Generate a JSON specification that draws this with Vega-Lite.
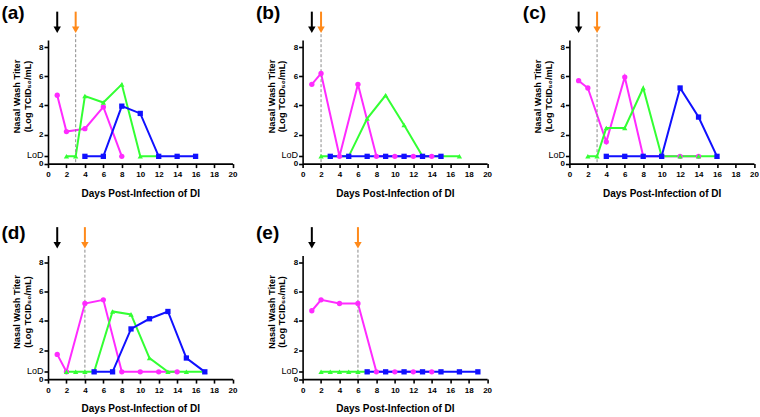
{
"$schema":"https://vega.github.io/schema/vega-lite/v6.json",
"padding":{"left":1,"top":3,"right":0,"bottom":0},
"background":"white",
"data":{"values":[
{"panel":"a","kind":"label","text":"(a)"},{"panel":"a","kind":"virus","day":1},{"panel":"a","kind":"DI","day":3},
{"panel":"a","kind":"obs","series":"m","day":1,"titer":4.7},{"panel":"a","kind":"obs","series":"m","day":2,"titer":2.2},{"panel":"a","kind":"obs","series":"m","day":4,"titer":2.4},{"panel":"a","kind":"obs","series":"m","day":6,"titer":3.9},{"panel":"a","kind":"obs","series":"m","day":8,"titer":0.5},
{"panel":"a","kind":"obs","series":"g","day":2,"titer":0.5},{"panel":"a","kind":"obs","series":"g","day":3,"titer":0.5},{"panel":"a","kind":"obs","series":"g","day":4,"titer":4.65},{"panel":"a","kind":"obs","series":"g","day":6,"titer":4.2},{"panel":"a","kind":"obs","series":"g","day":8,"titer":5.45},{"panel":"a","kind":"obs","series":"g","day":10,"titer":0.5},{"panel":"a","kind":"obs","series":"g","day":12,"titer":0.5},
{"panel":"a","kind":"obs","series":"b","day":4,"titer":0.5},{"panel":"a","kind":"obs","series":"b","day":6,"titer":0.5},{"panel":"a","kind":"obs","series":"b","day":8,"titer":3.95},{"panel":"a","kind":"obs","series":"b","day":10,"titer":3.45},{"panel":"a","kind":"obs","series":"b","day":12,"titer":0.5},{"panel":"a","kind":"obs","series":"b","day":14,"titer":0.5},{"panel":"a","kind":"obs","series":"b","day":16,"titer":0.5},

{"panel":"b","kind":"label","text":"(b)"},{"panel":"b","kind":"virus","day":1},{"panel":"b","kind":"DI","day":2},
{"panel":"b","kind":"obs","series":"m","day":1,"titer":5.45},{"panel":"b","kind":"obs","series":"m","day":2,"titer":6.2},{"panel":"b","kind":"obs","series":"m","day":4,"titer":0.5},{"panel":"b","kind":"obs","series":"m","day":6,"titer":5.45},{"panel":"b","kind":"obs","series":"m","day":8,"titer":0.5},{"panel":"b","kind":"obs","series":"m","day":10,"titer":0.5},{"panel":"b","kind":"obs","series":"m","day":12,"titer":0.5},{"panel":"b","kind":"obs","series":"m","day":14,"titer":0.5},
{"panel":"b","kind":"obs","series":"g","day":2,"titer":0.5},{"panel":"b","kind":"obs","series":"g","day":3,"titer":0.5},{"panel":"b","kind":"obs","series":"g","day":5,"titer":0.5},{"panel":"b","kind":"obs","series":"g","day":7,"titer":3.1},{"panel":"b","kind":"obs","series":"g","day":9,"titer":4.7},{"panel":"b","kind":"obs","series":"g","day":11,"titer":2.65},{"panel":"b","kind":"obs","series":"g","day":13,"titer":0.5},{"panel":"b","kind":"obs","series":"g","day":15,"titer":0.5},{"panel":"b","kind":"obs","series":"g","day":17,"titer":0.5},
{"panel":"b","kind":"obs","series":"b","day":3,"titer":0.5},{"panel":"b","kind":"obs","series":"b","day":5,"titer":0.5},{"panel":"b","kind":"obs","series":"b","day":7,"titer":0.5},{"panel":"b","kind":"obs","series":"b","day":9,"titer":0.5},{"panel":"b","kind":"obs","series":"b","day":11,"titer":0.5},{"panel":"b","kind":"obs","series":"b","day":13,"titer":0.5},{"panel":"b","kind":"obs","series":"b","day":15,"titer":0.5},

{"panel":"c","kind":"label","text":"(c)"},{"panel":"c","kind":"virus","day":1},{"panel":"c","kind":"DI","day":3},
{"panel":"c","kind":"obs","series":"m","day":1,"titer":5.7},{"panel":"c","kind":"obs","series":"m","day":2,"titer":5.2},{"panel":"c","kind":"obs","series":"m","day":4,"titer":1.5},{"panel":"c","kind":"obs","series":"m","day":6,"titer":5.95},{"panel":"c","kind":"obs","series":"m","day":8,"titer":0.5},{"panel":"c","kind":"obs","series":"m","day":10,"titer":0.5},{"panel":"c","kind":"obs","series":"m","day":12,"titer":0.5},{"panel":"c","kind":"obs","series":"m","day":14,"titer":0.5},
{"panel":"c","kind":"obs","series":"g","day":2,"titer":0.5},{"panel":"c","kind":"obs","series":"g","day":3,"titer":0.5},{"panel":"c","kind":"obs","series":"g","day":4,"titer":2.45},{"panel":"c","kind":"obs","series":"g","day":6,"titer":2.45},{"panel":"c","kind":"obs","series":"g","day":8,"titer":5.2},{"panel":"c","kind":"obs","series":"g","day":10,"titer":0.5},{"panel":"c","kind":"obs","series":"g","day":12,"titer":0.5},{"panel":"c","kind":"obs","series":"g","day":14,"titer":0.5},{"panel":"c","kind":"obs","series":"g","day":16,"titer":0.5},
{"panel":"c","kind":"obs","series":"b","day":4,"titer":0.5},{"panel":"c","kind":"obs","series":"b","day":6,"titer":0.5},{"panel":"c","kind":"obs","series":"b","day":8,"titer":0.5},{"panel":"c","kind":"obs","series":"b","day":10,"titer":0.5},{"panel":"c","kind":"obs","series":"b","day":12,"titer":5.2},{"panel":"c","kind":"obs","series":"b","day":14,"titer":3.2},{"panel":"c","kind":"obs","series":"b","day":16,"titer":0.5},

{"panel":"d","kind":"label","text":"(d)"},{"panel":"d","kind":"virus","day":1},{"panel":"d","kind":"DI","day":4},
{"panel":"d","kind":"obs","series":"m","day":1,"titer":1.7},{"panel":"d","kind":"obs","series":"m","day":2,"titer":0.5},{"panel":"d","kind":"obs","series":"m","day":4,"titer":5.2},{"panel":"d","kind":"obs","series":"m","day":6,"titer":5.45},{"panel":"d","kind":"obs","series":"m","day":8,"titer":0.5},{"panel":"d","kind":"obs","series":"m","day":10,"titer":0.5},{"panel":"d","kind":"obs","series":"m","day":12,"titer":0.5},{"panel":"d","kind":"obs","series":"m","day":14,"titer":0.5},
{"panel":"d","kind":"obs","series":"g","day":2,"titer":0.5},{"panel":"d","kind":"obs","series":"g","day":3,"titer":0.5},{"panel":"d","kind":"obs","series":"g","day":4,"titer":0.5},{"panel":"d","kind":"obs","series":"g","day":5,"titer":0.5},{"panel":"d","kind":"obs","series":"g","day":7,"titer":4.65},{"panel":"d","kind":"obs","series":"g","day":9,"titer":4.45},{"panel":"d","kind":"obs","series":"g","day":11,"titer":1.45},{"panel":"d","kind":"obs","series":"g","day":13,"titer":0.5},{"panel":"d","kind":"obs","series":"g","day":15,"titer":0.5},{"panel":"d","kind":"obs","series":"g","day":17,"titer":0.5},
{"panel":"d","kind":"obs","series":"b","day":5,"titer":0.5},{"panel":"d","kind":"obs","series":"b","day":7,"titer":0.5},{"panel":"d","kind":"obs","series":"b","day":9,"titer":3.45},{"panel":"d","kind":"obs","series":"b","day":11,"titer":4.15},{"panel":"d","kind":"obs","series":"b","day":13,"titer":4.65},{"panel":"d","kind":"obs","series":"b","day":15,"titer":1.45},{"panel":"d","kind":"obs","series":"b","day":17,"titer":0.5},

{"panel":"e","kind":"label","text":"(e)"},{"panel":"e","kind":"virus","day":1},{"panel":"e","kind":"DI","day":6},
{"panel":"e","kind":"obs","series":"m","day":1,"titer":4.7},{"panel":"e","kind":"obs","series":"m","day":2,"titer":5.45},{"panel":"e","kind":"obs","series":"m","day":4,"titer":5.2},{"panel":"e","kind":"obs","series":"m","day":6,"titer":5.2},{"panel":"e","kind":"obs","series":"m","day":8,"titer":0.5},{"panel":"e","kind":"obs","series":"m","day":10,"titer":0.5},{"panel":"e","kind":"obs","series":"m","day":12,"titer":0.5},{"panel":"e","kind":"obs","series":"m","day":14,"titer":0.5},
{"panel":"e","kind":"obs","series":"g","day":2,"titer":0.5},{"panel":"e","kind":"obs","series":"g","day":3,"titer":0.5},{"panel":"e","kind":"obs","series":"g","day":4,"titer":0.5},{"panel":"e","kind":"obs","series":"g","day":5,"titer":0.5},{"panel":"e","kind":"obs","series":"g","day":6,"titer":0.5},{"panel":"e","kind":"obs","series":"g","day":7,"titer":0.5},
{"panel":"e","kind":"obs","series":"b","day":7,"titer":0.5},{"panel":"e","kind":"obs","series":"b","day":9,"titer":0.5},{"panel":"e","kind":"obs","series":"b","day":11,"titer":0.5},{"panel":"e","kind":"obs","series":"b","day":13,"titer":0.5},{"panel":"e","kind":"obs","series":"b","day":15,"titer":0.5},{"panel":"e","kind":"obs","series":"b","day":17,"titer":0.5},{"panel":"e","kind":"obs","series":"b","day":19,"titer":0.5}
]},
"vconcat":[
{"hconcat":[
 {"hconcat":[
  {"width":184.5,"height":123.6,"transform":[{"filter":"datum.panel == 'a'"}],"resolve":{"scale":{"color":"independent"},"axis":{"x":"independent","y":"independent"}},
   "layer":[
    {"transform":[{"filter":"datum.kind == 'obs'"}],"mark":{"type":"line","strokeWidth":2},
     "encoding":{"x":{"field":"day","type":"quantitative","scale":{"domain":[0,20],"nice":false},"axis":{"orient":"bottom","values":[0,2,4,6,8,10,12,14,16,18,20],"title":"Days Post-Infection of DI","titleFontSize":10,"titlePadding":9.5,"labelPadding":3,"labelOverlap":false,"labelFlush":false,"labelBound":false}},
      "y":{"field":"titer","type":"quantitative","scale":{"domain":[0,8.5],"nice":false},"axis":{"orient":"left","values":[0,0.5,2,4,6,8],"labelExpr":"datum.value == 0.5 ? 'LoD' : datum.label","labelFontWeight":{"condition":{"test":"datum.value == 0.5","value":"normal"},"value":"bold"},"labelFontSize":{"condition":{"test":"datum.value == 0.5","value":9},"value":8},"labelOffset":{"condition":{"test":"datum.value == 0.5","value":-1.5},"value":0},"labelPadding":1,"labelOverlap":false,"labelFlush":false,"labelBound":false,"title":["Nasal Wash Titer","(Log TCID₅₀/mL)"],"titleFontSize":9.2,"titleLineHeight":10.5,"titleX":-26.5,"titleY":56}},
      "color":{"field":"series","type":"nominal","scale":{"domain":["m","g","b"],"range":["#ff2bff","#33ff33","#1010ff"]},"legend":null}}},
    {"transform":[{"filter":"datum.kind == 'DI'"}],"mark":{"type":"rule","color":"#8a8a8a","strokeWidth":1,"strokeDash":[3,2]},
     "encoding":{"x":{"field":"day","type":"quantitative","axis":null},"y":{"datum":8.9,"type":"quantitative","axis":null},"y2":{"datum":0}}},
    {"transform":[{"filter":"datum.kind == 'obs'"}],"mark":{"type":"point","filled":true,"size":28,"opacity":1},
     "encoding":{"x":{"field":"day","type":"quantitative","axis":null},"y":{"field":"titer","type":"quantitative","axis":null},
      "color":{"field":"series","type":"nominal","scale":{"domain":["m","g","b"],"range":["#ff2bff","#33ff33","#1010ff"]},"legend":null},
      "shape":{"field":"series","type":"nominal","scale":{"domain":["m","g","b"],"range":["circle","triangle-up","square"]},"legend":null}}},
    {"transform":[{"filter":"datum.kind == 'virus' || datum.kind == 'DI'"}],"mark":{"type":"rule","strokeWidth":2},
     "encoding":{"x":{"field":"day","type":"quantitative","axis":null},"y":{"datum":10.45,"type":"quantitative","axis":null},"y2":{"datum":9.35},
      "color":{"field":"kind","type":"nominal","scale":{"domain":["virus","DI"],"range":["#000000","#ff8a1a"]},"legend":null}}},
    {"transform":[{"filter":"datum.kind == 'virus' || datum.kind == 'DI'"}],"mark":{"type":"point","shape":"triangle-down","filled":true,"size":55,"opacity":1},
     "encoding":{"x":{"field":"day","type":"quantitative","axis":null},"y":{"datum":9.2,"type":"quantitative","axis":null},
      "color":{"field":"kind","type":"nominal","scale":{"domain":["virus","DI"],"range":["#000000","#ff8a1a"]},"legend":null}}},
    {"transform":[{"filter":"datum.kind == 'label'"}],"mark":{"type":"text","align":"left","baseline":"middle","font":"Liberation Sans","fontSize":19,"fontWeight":"bold","color":"#000"},
     "encoding":{"x":{"datum":-5.05,"type":"quantitative","axis":null},"y":{"datum":10.38,"type":"quantitative","axis":null},"text":{"field":"text"}}}
   ]},
  {"width":184.5,"height":123.6,"transform":[{"filter":"datum.panel == 'b'"}],"resolve":{"scale":{"color":"independent"},"axis":{"x":"independent","y":"independent"}},
   "layer":[
    {"transform":[{"filter":"datum.kind == 'obs'"}],"mark":{"type":"line","strokeWidth":2},
     "encoding":{"x":{"field":"day","type":"quantitative","scale":{"domain":[0,20],"nice":false},"axis":{"orient":"bottom","values":[0,2,4,6,8,10,12,14,16,18,20],"title":"Days Post-Infection of DI","titleFontSize":10,"titlePadding":9.5,"labelPadding":3,"labelOverlap":false,"labelFlush":false,"labelBound":false}},
      "y":{"field":"titer","type":"quantitative","scale":{"domain":[0,8.5],"nice":false},"axis":{"orient":"left","values":[0,0.5,2,4,6,8],"labelExpr":"datum.value == 0.5 ? 'LoD' : datum.label","labelFontWeight":{"condition":{"test":"datum.value == 0.5","value":"normal"},"value":"bold"},"labelFontSize":{"condition":{"test":"datum.value == 0.5","value":9},"value":8},"labelOffset":{"condition":{"test":"datum.value == 0.5","value":-1.5},"value":0},"labelPadding":1,"labelOverlap":false,"labelFlush":false,"labelBound":false,"title":["Nasal Wash Titer","(Log TCID₅₀/mL)"],"titleFontSize":9.2,"titleLineHeight":10.5,"titleX":-26.5,"titleY":56}},
      "color":{"field":"series","type":"nominal","scale":{"domain":["m","g","b"],"range":["#ff2bff","#33ff33","#1010ff"]},"legend":null}}},
    {"transform":[{"filter":"datum.kind == 'DI'"}],"mark":{"type":"rule","color":"#8a8a8a","strokeWidth":1,"strokeDash":[3,2]},
     "encoding":{"x":{"field":"day","type":"quantitative","axis":null},"y":{"datum":8.9,"type":"quantitative","axis":null},"y2":{"datum":0}}},
    {"transform":[{"filter":"datum.kind == 'obs'"}],"mark":{"type":"point","filled":true,"size":28,"opacity":1},
     "encoding":{"x":{"field":"day","type":"quantitative","axis":null},"y":{"field":"titer","type":"quantitative","axis":null},
      "color":{"field":"series","type":"nominal","scale":{"domain":["m","g","b"],"range":["#ff2bff","#33ff33","#1010ff"]},"legend":null},
      "shape":{"field":"series","type":"nominal","scale":{"domain":["m","g","b"],"range":["circle","triangle-up","square"]},"legend":null}}},
    {"transform":[{"filter":"datum.kind == 'virus' || datum.kind == 'DI'"}],"mark":{"type":"rule","strokeWidth":2},
     "encoding":{"x":{"field":"day","type":"quantitative","axis":null},"y":{"datum":10.45,"type":"quantitative","axis":null},"y2":{"datum":9.35},
      "color":{"field":"kind","type":"nominal","scale":{"domain":["virus","DI"],"range":["#000000","#ff8a1a"]},"legend":null}}},
    {"transform":[{"filter":"datum.kind == 'virus' || datum.kind == 'DI'"}],"mark":{"type":"point","shape":"triangle-down","filled":true,"size":55,"opacity":1},
     "encoding":{"x":{"field":"day","type":"quantitative","axis":null},"y":{"datum":9.2,"type":"quantitative","axis":null},
      "color":{"field":"kind","type":"nominal","scale":{"domain":["virus","DI"],"range":["#000000","#ff8a1a"]},"legend":null}}},
    {"transform":[{"filter":"datum.kind == 'label'"}],"mark":{"type":"text","align":"left","baseline":"middle","font":"Liberation Sans","fontSize":19,"fontWeight":"bold","color":"#000"},
     "encoding":{"x":{"datum":-5.05,"type":"quantitative","axis":null},"y":{"datum":10.38,"type":"quantitative","axis":null},"text":{"field":"text"}}}
   ]}
 ],"spacing":18.6},
 {"width":184.5,"height":123.6,"transform":[{"filter":"datum.panel == 'c'"}],"resolve":{"scale":{"color":"independent"},"axis":{"x":"independent","y":"independent"}},
   "layer":[
    {"transform":[{"filter":"datum.kind == 'obs'"}],"mark":{"type":"line","strokeWidth":2},
     "encoding":{"x":{"field":"day","type":"quantitative","scale":{"domain":[0,20],"nice":false},"axis":{"orient":"bottom","values":[0,2,4,6,8,10,12,14,16,18,20],"title":"Days Post-Infection of DI","titleFontSize":10,"titlePadding":9.5,"labelPadding":3,"labelOverlap":false,"labelFlush":false,"labelBound":false}},
      "y":{"field":"titer","type":"quantitative","scale":{"domain":[0,8.5],"nice":false},"axis":{"orient":"left","values":[0,0.5,2,4,6,8],"labelExpr":"datum.value == 0.5 ? 'LoD' : datum.label","labelFontWeight":{"condition":{"test":"datum.value == 0.5","value":"normal"},"value":"bold"},"labelFontSize":{"condition":{"test":"datum.value == 0.5","value":9},"value":8},"labelOffset":{"condition":{"test":"datum.value == 0.5","value":-1.5},"value":0},"labelPadding":1,"labelOverlap":false,"labelFlush":false,"labelBound":false,"title":["Nasal Wash Titer","(Log TCID₅₀/mL)"],"titleFontSize":9.2,"titleLineHeight":10.5,"titleX":-26.5,"titleY":56}},
      "color":{"field":"series","type":"nominal","scale":{"domain":["m","g","b"],"range":["#ff2bff","#33ff33","#1010ff"]},"legend":null}}},
    {"transform":[{"filter":"datum.kind == 'DI'"}],"mark":{"type":"rule","color":"#8a8a8a","strokeWidth":1,"strokeDash":[3,2]},
     "encoding":{"x":{"field":"day","type":"quantitative","axis":null},"y":{"datum":8.9,"type":"quantitative","axis":null},"y2":{"datum":0}}},
    {"transform":[{"filter":"datum.kind == 'obs'"}],"mark":{"type":"point","filled":true,"size":28,"opacity":1},
     "encoding":{"x":{"field":"day","type":"quantitative","axis":null},"y":{"field":"titer","type":"quantitative","axis":null},
      "color":{"field":"series","type":"nominal","scale":{"domain":["m","g","b"],"range":["#ff2bff","#33ff33","#1010ff"]},"legend":null},
      "shape":{"field":"series","type":"nominal","scale":{"domain":["m","g","b"],"range":["circle","triangle-up","square"]},"legend":null}}},
    {"transform":[{"filter":"datum.kind == 'virus' || datum.kind == 'DI'"}],"mark":{"type":"rule","strokeWidth":2},
     "encoding":{"x":{"field":"day","type":"quantitative","axis":null},"y":{"datum":10.45,"type":"quantitative","axis":null},"y2":{"datum":9.35},
      "color":{"field":"kind","type":"nominal","scale":{"domain":["virus","DI"],"range":["#000000","#ff8a1a"]},"legend":null}}},
    {"transform":[{"filter":"datum.kind == 'virus' || datum.kind == 'DI'"}],"mark":{"type":"point","shape":"triangle-down","filled":true,"size":55,"opacity":1},
     "encoding":{"x":{"field":"day","type":"quantitative","axis":null},"y":{"datum":9.2,"type":"quantitative","axis":null},
      "color":{"field":"kind","type":"nominal","scale":{"domain":["virus","DI"],"range":["#000000","#ff8a1a"]},"legend":null}}},
    {"transform":[{"filter":"datum.kind == 'label'"}],"mark":{"type":"text","align":"left","baseline":"middle","font":"Liberation Sans","fontSize":19,"fontWeight":"bold","color":"#000"},
     "encoding":{"x":{"datum":-5.05,"type":"quantitative","axis":null},"y":{"datum":10.38,"type":"quantitative","axis":null},"text":{"field":"text"}}}
   ]}
],"spacing":30.4},
{"hconcat":[
  {"width":184.5,"height":123.6,"transform":[{"filter":"datum.panel == 'd'"}],"resolve":{"scale":{"color":"independent"},"axis":{"x":"independent","y":"independent"}},
   "layer":[
    {"transform":[{"filter":"datum.kind == 'obs'"}],"mark":{"type":"line","strokeWidth":2},
     "encoding":{"x":{"field":"day","type":"quantitative","scale":{"domain":[0,20],"nice":false},"axis":{"orient":"bottom","values":[0,2,4,6,8,10,12,14,16,18,20],"title":"Days Post-Infection of DI","titleFontSize":10,"titlePadding":9.5,"labelPadding":3,"labelOverlap":false,"labelFlush":false,"labelBound":false}},
      "y":{"field":"titer","type":"quantitative","scale":{"domain":[0,8.5],"nice":false},"axis":{"orient":"left","values":[0,0.5,2,4,6,8],"labelExpr":"datum.value == 0.5 ? 'LoD' : datum.label","labelFontWeight":{"condition":{"test":"datum.value == 0.5","value":"normal"},"value":"bold"},"labelFontSize":{"condition":{"test":"datum.value == 0.5","value":9},"value":8},"labelOffset":{"condition":{"test":"datum.value == 0.5","value":-1.5},"value":0},"labelPadding":1,"labelOverlap":false,"labelFlush":false,"labelBound":false,"title":["Nasal Wash Titer","(Log TCID₅₀/mL)"],"titleFontSize":9.2,"titleLineHeight":10.5,"titleX":-26.5,"titleY":56}},
      "color":{"field":"series","type":"nominal","scale":{"domain":["m","g","b"],"range":["#ff2bff","#33ff33","#1010ff"]},"legend":null}}},
    {"transform":[{"filter":"datum.kind == 'DI'"}],"mark":{"type":"rule","color":"#8a8a8a","strokeWidth":1,"strokeDash":[3,2]},
     "encoding":{"x":{"field":"day","type":"quantitative","axis":null},"y":{"datum":8.9,"type":"quantitative","axis":null},"y2":{"datum":0}}},
    {"transform":[{"filter":"datum.kind == 'obs'"}],"mark":{"type":"point","filled":true,"size":28,"opacity":1},
     "encoding":{"x":{"field":"day","type":"quantitative","axis":null},"y":{"field":"titer","type":"quantitative","axis":null},
      "color":{"field":"series","type":"nominal","scale":{"domain":["m","g","b"],"range":["#ff2bff","#33ff33","#1010ff"]},"legend":null},
      "shape":{"field":"series","type":"nominal","scale":{"domain":["m","g","b"],"range":["circle","triangle-up","square"]},"legend":null}}},
    {"transform":[{"filter":"datum.kind == 'virus' || datum.kind == 'DI'"}],"mark":{"type":"rule","strokeWidth":2},
     "encoding":{"x":{"field":"day","type":"quantitative","axis":null},"y":{"datum":10.45,"type":"quantitative","axis":null},"y2":{"datum":9.35},
      "color":{"field":"kind","type":"nominal","scale":{"domain":["virus","DI"],"range":["#000000","#ff8a1a"]},"legend":null}}},
    {"transform":[{"filter":"datum.kind == 'virus' || datum.kind == 'DI'"}],"mark":{"type":"point","shape":"triangle-down","filled":true,"size":55,"opacity":1},
     "encoding":{"x":{"field":"day","type":"quantitative","axis":null},"y":{"datum":9.2,"type":"quantitative","axis":null},
      "color":{"field":"kind","type":"nominal","scale":{"domain":["virus","DI"],"range":["#000000","#ff8a1a"]},"legend":null}}},
    {"transform":[{"filter":"datum.kind == 'label'"}],"mark":{"type":"text","align":"left","baseline":"middle","font":"Liberation Sans","fontSize":19,"fontWeight":"bold","color":"#000"},
     "encoding":{"x":{"datum":-5.05,"type":"quantitative","axis":null},"y":{"datum":10.03,"type":"quantitative","axis":null},"text":{"field":"text"}}}
   ]},
  {"width":184.5,"height":123.6,"transform":[{"filter":"datum.panel == 'e'"}],"resolve":{"scale":{"color":"independent"},"axis":{"x":"independent","y":"independent"}},
   "layer":[
    {"transform":[{"filter":"datum.kind == 'obs'"}],"mark":{"type":"line","strokeWidth":2},
     "encoding":{"x":{"field":"day","type":"quantitative","scale":{"domain":[0,20],"nice":false},"axis":{"orient":"bottom","values":[0,2,4,6,8,10,12,14,16,18,20],"title":"Days Post-Infection of DI","titleFontSize":10,"titlePadding":9.5,"labelPadding":3,"labelOverlap":false,"labelFlush":false,"labelBound":false}},
      "y":{"field":"titer","type":"quantitative","scale":{"domain":[0,8.5],"nice":false},"axis":{"orient":"left","values":[0,0.5,2,4,6,8],"labelExpr":"datum.value == 0.5 ? 'LoD' : datum.label","labelFontWeight":{"condition":{"test":"datum.value == 0.5","value":"normal"},"value":"bold"},"labelFontSize":{"condition":{"test":"datum.value == 0.5","value":9},"value":8},"labelOffset":{"condition":{"test":"datum.value == 0.5","value":-1.5},"value":0},"labelPadding":1,"labelOverlap":false,"labelFlush":false,"labelBound":false,"title":["Nasal Wash Titer","(Log TCID₅₀/mL)"],"titleFontSize":9.2,"titleLineHeight":10.5,"titleX":-26.5,"titleY":56}},
      "color":{"field":"series","type":"nominal","scale":{"domain":["m","g","b"],"range":["#ff2bff","#33ff33","#1010ff"]},"legend":null}}},
    {"transform":[{"filter":"datum.kind == 'DI'"}],"mark":{"type":"rule","color":"#8a8a8a","strokeWidth":1,"strokeDash":[3,2]},
     "encoding":{"x":{"field":"day","type":"quantitative","axis":null},"y":{"datum":8.9,"type":"quantitative","axis":null},"y2":{"datum":0}}},
    {"transform":[{"filter":"datum.kind == 'obs'"}],"mark":{"type":"point","filled":true,"size":28,"opacity":1},
     "encoding":{"x":{"field":"day","type":"quantitative","axis":null},"y":{"field":"titer","type":"quantitative","axis":null},
      "color":{"field":"series","type":"nominal","scale":{"domain":["m","g","b"],"range":["#ff2bff","#33ff33","#1010ff"]},"legend":null},
      "shape":{"field":"series","type":"nominal","scale":{"domain":["m","g","b"],"range":["circle","triangle-up","square"]},"legend":null}}},
    {"transform":[{"filter":"datum.kind == 'virus' || datum.kind == 'DI'"}],"mark":{"type":"rule","strokeWidth":2},
     "encoding":{"x":{"field":"day","type":"quantitative","axis":null},"y":{"datum":10.45,"type":"quantitative","axis":null},"y2":{"datum":9.35},
      "color":{"field":"kind","type":"nominal","scale":{"domain":["virus","DI"],"range":["#000000","#ff8a1a"]},"legend":null}}},
    {"transform":[{"filter":"datum.kind == 'virus' || datum.kind == 'DI'"}],"mark":{"type":"point","shape":"triangle-down","filled":true,"size":55,"opacity":1},
     "encoding":{"x":{"field":"day","type":"quantitative","axis":null},"y":{"datum":9.2,"type":"quantitative","axis":null},
      "color":{"field":"kind","type":"nominal","scale":{"domain":["virus","DI"],"range":["#000000","#ff8a1a"]},"legend":null}}},
    {"transform":[{"filter":"datum.kind == 'label'"}],"mark":{"type":"text","align":"left","baseline":"middle","font":"Liberation Sans","fontSize":19,"fontWeight":"bold","color":"#000"},
     "encoding":{"x":{"datum":-5.05,"type":"quantitative","axis":null},"y":{"datum":10.03,"type":"quantitative","axis":null},"text":{"field":"text"}}}
   ]}
],"spacing":18.6}
],
"spacing":24.5,
"config":{
 "view":{"stroke":null},
 "axis":{"domainColor":"#000","domainWidth":1.6,"tickColor":"#000","tickWidth":1.6,"tickSize":4,"labelFont":"Liberation Sans","labelFontWeight":"bold","labelFontSize":8,"labelColor":"#000","titleFont":"Liberation Sans","titleFontWeight":"bold","titleColor":"#000","grid":false}
}
}
